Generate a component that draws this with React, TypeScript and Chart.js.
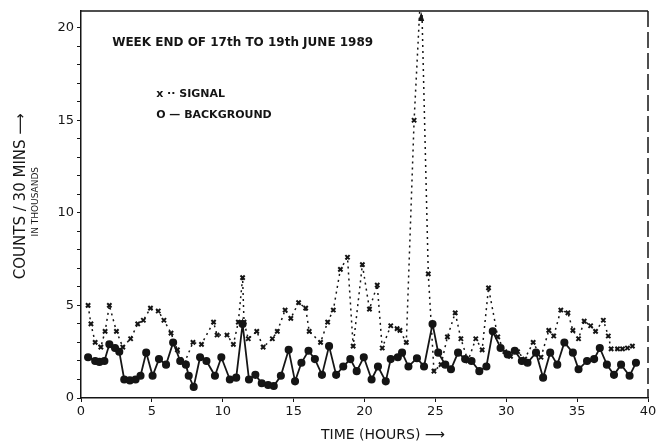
import React, { useEffect, useRef } from "react";
import { Chart, registerables } from "chart.js";
Chart.register(...registerables);

// Background (solid line, circles): time in hours, counts in thousands per 30 min
const bgTimes = [0.5,1.0,1.3,1.65,2.0,2.4,2.7,3.05,3.45,3.85,4.2,4.6,5.05,5.5,6.0,6.5,7.0,7.4,7.6,7.95,8.4,8.85,9.45,9.9,10.5,10.95,11.4,11.85,12.3,12.75,13.2,13.6,14.1,14.65,15.1,15.55,16.05,16.5,17.0,17.5,18.0,18.5,19.0,19.45,19.95,20.5,20.95,21.5,21.85,22.35,22.65,23.1,23.7,24.2,24.8,25.2,25.7,26.1,26.6,27.1,27.55,28.1,28.6,29.05,29.6,30.1,30.6,31.1,31.5,32.1,32.6,33.1,33.6,34.1,34.7,35.1,35.7,36.2,36.6,37.1,37.6,38.1,38.7,39.15];
const bgCounts = [2.2,2.0,1.95,2.0,2.9,2.7,2.5,1.0,0.95,1.0,1.2,2.45,1.2,2.1,1.8,3.0,2.0,1.8,1.2,0.6,2.2,2.0,1.2,2.2,1.0,1.1,4.0,1.0,1.25,0.8,0.7,0.65,1.2,2.6,0.9,1.9,2.55,2.1,1.25,2.8,1.25,1.7,2.1,1.45,2.2,1.0,1.7,0.9,2.1,2.2,2.45,1.7,2.15,1.7,4.0,2.45,1.8,1.55,2.45,2.1,2.0,1.45,1.7,3.6,2.7,2.35,2.55,2.0,1.9,2.45,1.1,2.45,1.8,3.0,2.45,1.55,2.0,2.1,2.7,1.8,1.25,1.8,1.2,1.9];

// Signal (dotted line, crosses)
const sigTimes = [0.5,0.7,1.0,1.4,1.7,2.0,2.5,2.95,3.5,4.0,4.4,4.9,5.45,5.85,6.35,6.8,7.3,7.9,8.5,9.35,9.6,10.3,10.75,11.1,11.4,11.5,11.8,12.4,12.85,13.5,13.85,14.4,14.8,15.35,15.85,16.1,16.9,17.4,17.8,18.3,18.8,19.2,19.85,20.35,20.9,21.25,21.85,22.3,22.5,22.95,23.5,24.0,24.5,24.9,25.4,25.85,26.4,26.8,27.3,27.85,28.3,28.75,29.4,29.9,30.3,30.8,31.3,31.9,32.45,33.0,33.35,33.85,34.35,34.7,35.1,35.5,35.95,36.3,36.85,37.2,37.4,37.85,38.2,38.55,38.9];
const sigCounts = [5.0,4.0,3.0,2.75,3.6,5.0,3.6,2.75,3.2,4.0,4.2,4.85,4.7,4.2,3.5,2.6,1.9,3.0,2.9,4.1,3.4,3.4,2.9,4.1,6.5,4.1,3.2,3.6,2.75,3.2,3.6,4.75,4.3,5.15,4.85,3.6,3.0,4.1,4.75,6.95,7.6,2.8,7.2,4.8,6.1,2.7,3.9,3.75,3.65,3.0,15.0,22.5,6.7,1.45,1.8,3.3,4.6,3.2,2.0,3.2,2.6,5.95,3.3,2.5,2.25,2.5,2.1,3.0,2.2,3.65,3.35,4.75,4.6,3.65,3.2,4.15,3.9,3.6,4.2,3.35,2.65,2.65,2.65,2.7,2.8];

const xTickValues = [0, 5, 10, 15, 20, 25, 30, 35, 40];
const yLabelValues = [0, 5, 10, 15, 20];
const titleText = "WEEK END OF 17th TO 19th JUNE 1989";
const signalLabel = "x ·· SIGNAL";
const backgroundLabel = "O — BACKGROUND";
const xTitle = "TIME (HOURS) ⟶";
const yTitle = "COUNTS / 30 MINS ⟶";
const yTitle2 = "IN THOUSANDS";

const INK = "#151515";
const FONT = "'DejaVu Sans', sans-serif";

const overlay = {
  id: "overlay",
  afterDraw(chart: any) {
    const { ctx, chartArea } = chart;
    const xs = chart.scales.x;
    const ys = chart.scales.y;
    ctx.save();
    ctx.strokeStyle = INK;
    ctx.lineWidth = 1.5;
    ctx.setLineDash([]);
    ctx.beginPath();
    ctx.moveTo(chartArea.left, chartArea.top);
    ctx.lineTo(chartArea.right, chartArea.top);
    ctx.stroke();
    ctx.setLineDash([16, 5]);
    ctx.beginPath();
    ctx.moveTo(chartArea.right, chartArea.top);
    ctx.lineTo(chartArea.right, chartArea.bottom);
    ctx.stroke();
    ctx.setLineDash([]);
    const px = xs.getPixelForValue(24.0);
    ctx.fillStyle = INK;
    ctx.beginPath();
    ctx.moveTo(px, chartArea.top + 1);
    ctx.lineTo(px - 3, chartArea.top + 10);
    ctx.lineTo(px + 3, chartArea.top + 10);
    ctx.closePath();
    ctx.fill();

    ctx.fillStyle = INK;
    ctx.textBaseline = "middle";
    ctx.textAlign = "left";
    ctx.font = `bold 12px ${FONT}`;
    ctx.fillText(titleText, xs.getPixelForValue(2.2), ys.getPixelForValue(19.2));
    ctx.font = `bold 11px ${FONT}`;
    ctx.fillText(signalLabel, xs.getPixelForValue(5.3), ys.getPixelForValue(16.4));
    ctx.fillText(backgroundLabel, xs.getPixelForValue(5.3), ys.getPixelForValue(15.3));

    ctx.font = `14px ${FONT}`;
    ctx.textAlign = "center";
    ctx.fillText(xTitle, xs.getPixelForValue(21.3), chartArea.bottom + 37);

    ctx.save();
    ctx.translate(21, ys.getPixelForValue(10.9));
    ctx.rotate(-Math.PI / 2);
    ctx.font = `15px ${FONT}`;
    ctx.fillText(yTitle, 0, 0);
    ctx.restore();
    ctx.save();
    ctx.translate(36, ys.getPixelForValue(10.6));
    ctx.rotate(-Math.PI / 2);
    ctx.font = `9px ${FONT}`;
    ctx.fillText(yTitle2, 0, 0);
    ctx.restore();
    ctx.restore();
  },
};

export default function App() {
  const ref = useRef<HTMLCanvasElement | null>(null);
  useEffect(() => {
    if (!ref.current) return;
    const chart = new Chart(ref.current, {
      type: "scatter",
      data: {
        datasets: [
          {
            label: "Signal",
            data: sigTimes.map((t, i) => ({ x: t, y: sigCounts[i] })),
            showLine: true,
            borderColor: INK,
            borderWidth: 1.5,
            borderDash: [2, 4],
            pointStyle: "crossRot",
            pointRadius: 3,
            pointBorderWidth: 2,
            pointBorderColor: INK,
            pointBackgroundColor: INK,
          },
          {
            label: "Background",
            data: bgTimes.map((t, i) => ({ x: t, y: bgCounts[i] })),
            showLine: true,
            borderColor: INK,
            borderWidth: 1.8,
            pointStyle: "circle",
            pointRadius: 3.3,
            pointBorderWidth: 1.5,
            pointBorderColor: INK,
            pointBackgroundColor: INK,
          },
        ],
      },
      options: {
        animation: false,
        responsive: false,
        layout: { padding: { left: 0, right: 16, top: 11, bottom: 0 } },
        plugins: { legend: { display: false }, tooltip: { enabled: false } },
        scales: {
          x: {
            type: "linear",
            min: 0,
            max: 40,
            afterFit: (s: any) => { s.height = 46; },
            afterBuildTicks: (s: any) => { s.ticks = xTickValues.map((v) => ({ value: v })); },
            ticks: { color: INK, font: { family: FONT, size: 13 }, padding: 2, callback: (v: any) => String(v) },
            grid: { display: true, drawOnChartArea: false, drawTicks: true, tickLength: 4, color: INK, lineWidth: 1 },
            border: { display: true, color: INK, width: 1.5 },
          },
          y: {
            type: "linear",
            min: 0,
            max: 20.9,
            afterFit: (s: any) => { s.width = 81; },
            ticks: {
              stepSize: 1,
              includeBounds: false,
              autoSkip: false,
              color: INK,
              font: { family: FONT, size: 13 },
              padding: 3,
              callback: (v: any) => (yLabelValues.includes(Number(v)) ? String(v) : ""),
            },
            grid: { display: true, drawOnChartArea: false, drawTicks: true, tickLength: 4, color: INK, lineWidth: 1 },
            border: { display: true, color: INK, width: 1.5 },
          },
        },
      },
      plugins: [overlay],
    } as any);
    return () => chart.destroy();
  }, []);
  return (
    <div style={{ position: "fixed", left: 0, top: 0, width: 664, height: 444, background: "#fff" }}>
      <canvas ref={ref} width={664} height={444} />
    </div>
  );
}
